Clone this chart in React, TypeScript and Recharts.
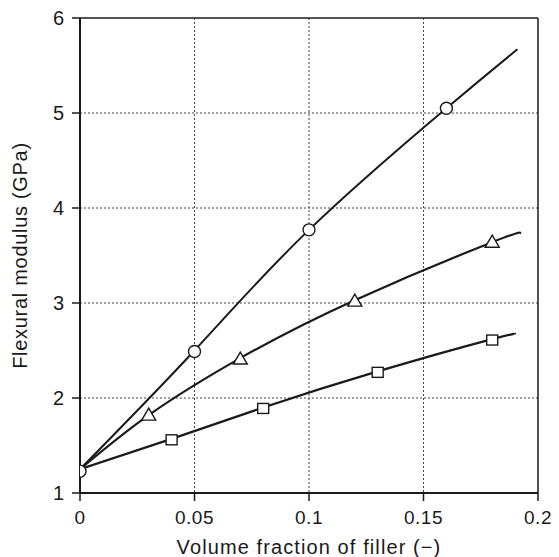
import {
  ComposedChart,
  Line,
  Scatter,
  XAxis,
  YAxis,
  CartesianGrid,
  ReferenceLine,
} from 'recharts';

// measured points
const circlePts = [
  { x: 0, y: 1.23 },
  { x: 0.05, y: 2.49 },
  { x: 0.1, y: 3.77 },
  { x: 0.16, y: 5.05 },
];
const trianglePts = [
  { x: 0.03, y: 1.82 },
  { x: 0.07, y: 2.41 },
  { x: 0.12, y: 3.02 },
  { x: 0.18, y: 3.64 },
];
const squarePts = [
  { x: 0.04, y: 1.56 },
  { x: 0.08, y: 1.89 },
  { x: 0.13, y: 2.27 },
  { x: 0.18, y: 2.61 },
];

// fitted curves
const circleCurve = [
  { x: 0, y: 1.25 },
  { x: 0.05, y: 2.5 },
  { x: 0.1, y: 3.77 },
  { x: 0.16, y: 5.05 },
  { x: 0.191, y: 5.67 },
];
const triangleCurve = [
  { x: 0, y: 1.25 },
  { x: 0.03, y: 1.82 },
  { x: 0.07, y: 2.42 },
  { x: 0.12, y: 3.03 },
  { x: 0.18, y: 3.64 },
  { x: 0.192, y: 3.73 },
];
const squareCurve = [
  { x: 0, y: 1.25 },
  { x: 0.04, y: 1.57 },
  { x: 0.08, y: 1.9 },
  { x: 0.13, y: 2.28 },
  { x: 0.18, y: 2.62 },
  { x: 0.19, y: 2.67 },
];

const xTicks = [0, 0.05, 0.1, 0.15, 0.2];
const yTicks = [1, 2, 3, 4, 5, 6];

const ink = '#1a1a1a';
const font = 'Liberation Sans, Arial, sans-serif';

const CircleMark = (p: any) => (
  <circle cx={p.cx} cy={p.cy} r={6} fill="#fff" stroke={ink} strokeWidth={1.4} />
);
const TriangleMark = (p: any) => {
  const { cx, cy } = p;
  return (
    <polygon
      points={`${cx},${cy - 7} ${cx - 7},${cy + 5} ${cx + 7},${cy + 5}`}
      fill="#fff"
      stroke={ink}
      strokeWidth={1.4}
    />
  );
};
const SquareMark = (p: any) => (
  <rect x={p.cx - 5.5} y={p.cy - 5} width={11} height={10} fill="#fff" stroke={ink} strokeWidth={1.4} />
);

export default function App() {
  return (
    <div style={{ position: 'absolute', left: 0, top: 0, background: '#fff' }}>
      <ComposedChart
        width={559}
        height={557}
        margin={{ top: 18, right: 21, left: 0, bottom: 0 }}
      >
        <CartesianGrid
          stroke="#444"
          strokeDasharray="2 2"
          strokeWidth={1}
          horizontalValues={[2, 3, 4, 5]}
          verticalValues={[0.05, 0.1, 0.15]}
        />
        <XAxis
          type="number"
          dataKey="x"
          domain={[0, 0.2]}
          ticks={xTicks}
          tickFormatter={(v: number) => String(v)}
          allowDataOverflow
          height={64}
          stroke={ink}
          axisLine={{ stroke: ink, strokeWidth: 2 }}
          tickLine={{ stroke: ink, strokeWidth: 1.5 }}
          tickSize={8}
          tickMargin={10}
          tick={{ fill: ink, fontSize: 19, fontFamily: font, letterSpacing: 0.5 }}
          label={{
            value: 'Volume fraction of filler (\u2212)',
            position: 'insideBottom',
            offset: 3,
            fill: ink,
            fontSize: 20,
            fontFamily: font,
            style: { letterSpacing: 1.1 },
          }}
        />
        <YAxis
          type="number"
          dataKey="y"
          domain={[1, 6]}
          ticks={yTicks}
          allowDataOverflow
          width={80}
          axisLine={{ stroke: ink, strokeWidth: 2 }}
          tickLine={{ stroke: ink, strokeWidth: 1.5 }}
          tickSize={8}
          tickMargin={8}
          tick={{ fill: ink, fontSize: 20, fontFamily: font }}
          label={{
            value: 'Flexural modulus (GPa)',
            angle: -90,
            position: 'insideLeft',
            offset: 20,
            style: { textAnchor: 'middle', letterSpacing: 0.7 },
            fill: ink,
            fontSize: 20,
            fontFamily: font,
          }}
        />
        <ReferenceLine y={6} stroke={ink} strokeWidth={1.5} />
        <ReferenceLine x={0.2} stroke={ink} strokeWidth={1.5} />
        <Line data={circleCurve} dataKey="y" type="natural" stroke={ink} strokeWidth={2} dot={false} isAnimationActive={false} />
        <Line data={triangleCurve} dataKey="y" type="natural" stroke={ink} strokeWidth={2.2} dot={false} isAnimationActive={false} />
        <Line data={squareCurve} dataKey="y" type="natural" stroke={ink} strokeWidth={2.2} dot={false} isAnimationActive={false} />
        <Scatter data={circlePts} dataKey="y" shape={CircleMark} isAnimationActive={false} />
        <Scatter data={trianglePts} dataKey="y" shape={TriangleMark} isAnimationActive={false} />
        <Scatter data={squarePts} dataKey="y" shape={SquareMark} isAnimationActive={false} />
      </ComposedChart>
    </div>
  );
}
